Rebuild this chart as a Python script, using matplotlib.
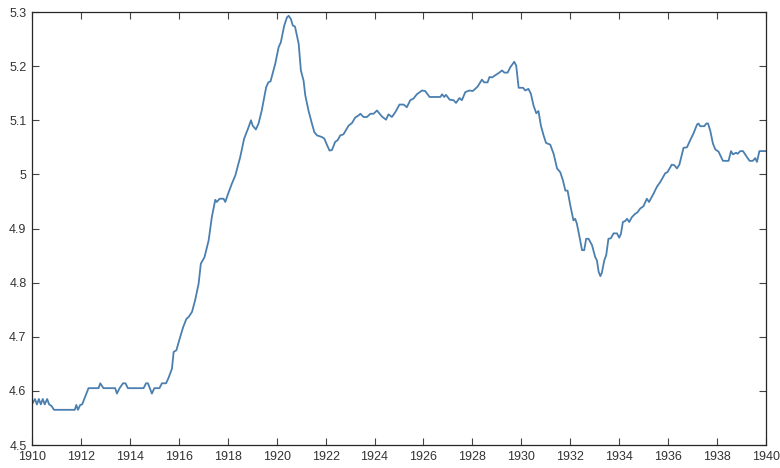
import matplotlib
matplotlib.use("Agg")
import matplotlib.pyplot as plt

# valores (ano, nivel)
anos = [
    1910.00, 1910.12, 1910.20, 1910.28, 1910.36, 1910.44, 1910.52, 1910.62, 1910.70, 1910.80,
    1910.90, 1911.75, 1911.81, 1911.88, 1911.97, 1912.05, 1912.31, 1912.72, 1912.79, 1912.92,
    1913.40, 1913.47, 1913.58, 1913.72, 1913.82, 1913.92, 1914.56, 1914.66, 1914.74, 1914.90,
    1915.00, 1915.21, 1915.31, 1915.48, 1915.58, 1915.72, 1915.79, 1915.90, 1916.06, 1916.18,
    1916.31, 1916.41, 1916.54, 1916.67, 1916.81, 1916.90, 1917.05, 1917.22, 1917.35, 1917.49,
    1917.55, 1917.67, 1917.83, 1917.90, 1918.03, 1918.17, 1918.31, 1918.51, 1918.67, 1918.85,
    1918.95, 1919.02, 1919.15, 1919.26, 1919.39, 1919.57, 1919.66, 1919.75, 1919.94, 1920.08,
    1920.17, 1920.31, 1920.42, 1920.49, 1920.58, 1920.66, 1920.75, 1920.90, 1920.99, 1921.10,
    1921.17, 1921.30, 1921.44, 1921.54, 1921.65, 1921.85, 1921.95, 1922.06, 1922.16, 1922.26,
    1922.39, 1922.49, 1922.60, 1922.73, 1922.94, 1923.08, 1923.21, 1923.35, 1923.42, 1923.55,
    1923.69, 1923.83, 1923.96, 1924.10, 1924.21, 1924.30, 1924.47, 1924.57, 1924.71, 1924.85,
    1925.02, 1925.19, 1925.32, 1925.46, 1925.59, 1925.73, 1925.94, 1926.07, 1926.25, 1926.69,
    1926.76, 1926.85, 1926.92, 1927.07, 1927.23, 1927.33, 1927.47, 1927.57, 1927.71, 1927.88,
    1928.01, 1928.09, 1928.21, 1928.39, 1928.48, 1928.62, 1928.70, 1928.80, 1928.93, 1929.07,
    1929.21, 1929.31, 1929.44, 1929.55, 1929.71, 1929.79, 1929.89, 1930.07, 1930.16, 1930.29,
    1930.39, 1930.50, 1930.61, 1930.70, 1930.80, 1930.91, 1931.01, 1931.18, 1931.32, 1931.46,
    1931.59, 1931.70, 1931.80, 1931.89, 1932.00, 1932.13, 1932.20, 1932.27, 1932.38, 1932.48,
    1932.57, 1932.65, 1932.75, 1932.89, 1933.02, 1933.09, 1933.16, 1933.23, 1933.29, 1933.39,
    1933.47, 1933.56, 1933.66, 1933.77, 1933.91, 1934.00, 1934.07, 1934.15, 1934.25, 1934.32,
    1934.41, 1934.52, 1934.65, 1934.75, 1934.86, 1934.99, 1935.13, 1935.22, 1935.40, 1935.54,
    1935.68, 1935.88, 1935.97, 1936.15, 1936.25, 1936.36, 1936.46, 1936.63, 1936.77, 1936.90,
    1937.04, 1937.18, 1937.24, 1937.31, 1937.48, 1937.56, 1937.63, 1937.72, 1937.83, 1937.93,
    1938.06, 1938.24, 1938.47, 1938.57, 1938.65, 1938.78, 1938.84, 1938.95, 1939.06, 1939.22,
    1939.33, 1939.46, 1939.56, 1939.63, 1939.73, 1939.97, 1940.00,
]
valores = [
    4.575, 4.585, 4.575, 4.585, 4.575, 4.585, 4.575, 4.585, 4.575, 4.572,
    4.565, 4.565, 4.574, 4.565, 4.574, 4.575, 4.605, 4.605, 4.614, 4.605,
    4.605, 4.595, 4.605, 4.614, 4.614, 4.605, 4.605, 4.614, 4.614, 4.595,
    4.605, 4.605, 4.614, 4.614, 4.624, 4.641, 4.672, 4.675, 4.700, 4.718,
    4.733, 4.737, 4.746, 4.768, 4.798, 4.835, 4.847, 4.878, 4.921, 4.953,
    4.949, 4.955, 4.955, 4.949, 4.966, 4.983, 4.998, 5.032, 5.066, 5.087,
    5.100, 5.090, 5.083, 5.094, 5.118, 5.161, 5.170, 5.172, 5.204, 5.235,
    5.244, 5.275, 5.290, 5.293, 5.287, 5.275, 5.273, 5.241, 5.192, 5.173,
    5.146, 5.118, 5.094, 5.078, 5.072, 5.069, 5.066, 5.054, 5.044, 5.045,
    5.060, 5.063, 5.072, 5.074, 5.090, 5.095, 5.105, 5.109, 5.112, 5.106,
    5.106, 5.112, 5.112, 5.118, 5.112, 5.107, 5.101, 5.111, 5.106, 5.115,
    5.129, 5.129, 5.124, 5.137, 5.140, 5.148, 5.155, 5.154, 5.143, 5.143,
    5.148, 5.143, 5.147, 5.138, 5.137, 5.132, 5.141, 5.137, 5.152, 5.155,
    5.154, 5.157, 5.162, 5.175, 5.170, 5.170, 5.180, 5.179, 5.183, 5.187,
    5.192, 5.188, 5.188, 5.198, 5.208, 5.201, 5.160, 5.160, 5.155, 5.158,
    5.149, 5.127, 5.113, 5.117, 5.090, 5.072, 5.058, 5.055, 5.038, 5.011,
    5.004, 4.989, 4.970, 4.970, 4.943, 4.915, 4.918, 4.909, 4.884, 4.860,
    4.860, 4.881, 4.881, 4.869, 4.847, 4.841, 4.820, 4.812, 4.818, 4.841,
    4.851, 4.881, 4.882, 4.891, 4.891, 4.883, 4.890, 4.912, 4.914, 4.918,
    4.912, 4.921, 4.927, 4.930, 4.937, 4.941, 4.955, 4.949, 4.964, 4.977,
    4.986, 5.002, 5.004, 5.018, 5.017, 5.011, 5.018, 5.049, 5.050, 5.063,
    5.076, 5.092, 5.094, 5.089, 5.089, 5.094, 5.094, 5.081, 5.057, 5.046,
    5.042, 5.025, 5.025, 5.043, 5.037, 5.040, 5.038, 5.043, 5.043, 5.032,
    5.025, 5.025, 5.030, 5.023, 5.043, 5.043, 5.043,
]

ticks_x = list(range(1910, 1941, 2))
ticks_y = [4.5, 4.6, 4.7, 4.8, 4.9, 5.0, 5.1, 5.2, 5.3]
rotulos_y = ["4.5", "4.6", "4.7", "4.8", "4.9", "5", "5.1", "5.2", "5.3"]

plt.rcParams["font.family"] = ["Liberation Sans", "DejaVu Sans"]

fig = plt.figure(figsize=(7.8, 4.68), dpi=100)
ax = fig.add_axes([32 / 780, 23 / 468, 734 / 780, 433 / 468])

ax.plot(anos, valores, color="#4a7fb0", linewidth=1.3)

ax.set_xlim(1910, 1940)
ax.set_ylim(4.5, 5.3)
ax.set_xticks(ticks_x)
ax.set_yticks(ticks_y)
ax.set_yticklabels(rotulos_y)

ax.tick_params(direction="in", length=5, width=0.8, color="#444444",
               labelsize=9, labelcolor="#333333", top=True, right=True,
               pad=4)
for lado in ax.spines.values():
    lado.set_color("#262626")
    lado.set_linewidth(0.9)

fig.savefig("out.png", dpi=100)
